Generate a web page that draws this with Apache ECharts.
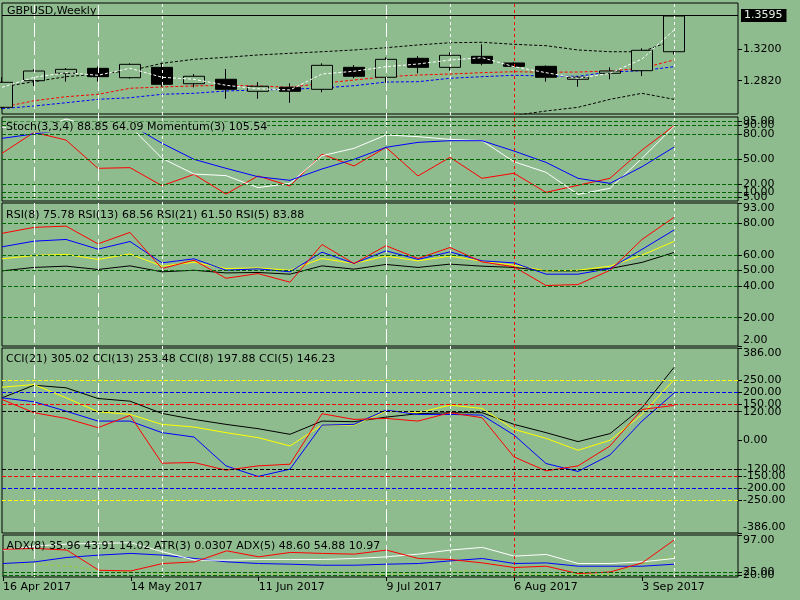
<!DOCTYPE html>
<html>
<head>
<meta charset="utf-8">
<title>GBPUSD,Weekly</title>
<script src="https://cdn.jsdelivr.net/npm/echarts@6.0.0/dist/echarts.min.js"></script>
<style>
html, body { margin: 0; padding: 0; background: #8fbc8f; }
#chart { width: 800px; height: 600px; }
</style>
</head>
<body>
<div id="chart"></div>
<script>
// weekly bars, two empty weeks on the right (chart shift)
var weeks = ['16 Apr 2017', '23 Apr 2017', '30 Apr 2017', '7 May 2017', '14 May 2017', '21 May 2017',
  '28 May 2017', '4 Jun 2017', '11 Jun 2017', '18 Jun 2017', '25 Jun 2017', '2 Jul 2017',
  '9 Jul 2017', '16 Jul 2017', '23 Jul 2017', '30 Jul 2017', '6 Aug 2017', '13 Aug 2017',
  '20 Aug 2017', '27 Aug 2017', '3 Sep 2017', '10 Sep 2017', '17 Sep 2017', '24 Sep 2017'];

var opens  = [1.2501, 1.2820, 1.2909, 1.2968, 1.2856, 1.2980, 1.2784, 1.2837, 1.2693, 1.2741, 1.2717,
  1.2980, 1.2861, 1.3088, 1.2980, 1.3112, 1.3032, 1.2992, 1.2837, 1.2909, 1.2940, 1.3167];
var closes = [1.2801, 1.2936, 1.2956, 1.2868, 1.3016, 1.2777, 1.2873, 1.2717, 1.2753, 1.2693, 1.3004,
  1.2873, 1.3076, 1.2980, 1.3124, 1.3028, 1.2992, 1.2861, 1.2861, 1.2936, 1.3184, 1.3595];
var lows   = [1.2480, 1.2756, 1.2808, 1.2810, 1.2844, 1.2748, 1.2741, 1.2604, 1.2604, 1.2556, 1.2681,
  1.2849, 1.2796, 1.2909, 1.2940, 1.3004, 1.2980, 1.2808, 1.2748, 1.2837, 1.2876, 1.3136];
var highs  = [1.2860, 1.2956, 1.2972, 1.2990, 1.3028, 1.3036, 1.2900, 1.2960, 1.2804, 1.2789, 1.3028,
  1.3008, 1.3100, 1.3116, 1.3160, 1.3256, 1.3044, 1.3004, 1.2873, 1.2980, 1.3208, 1.3595];
var bid = 1.3595;

var maWhite = [1.2741, 1.2861, 1.2916, 1.2885, 1.2969, 1.2861, 1.2837, 1.2765, 1.2724, 1.2709, 1.2900,
  1.2933, 1.2988, 1.3020, 1.3068, 1.3096, 1.2988, 1.2916, 1.2849, 1.2909, 1.3080, 1.3427];
var maRed = [1.2501, 1.2580, 1.2628, 1.2657, 1.2729, 1.2745, 1.2757, 1.2765, 1.2757, 1.2741, 1.2789,
  1.2828, 1.2868, 1.2888, 1.2900, 1.2916, 1.2928, 1.2921, 1.2924, 1.2936, 1.2969, 1.3068];
var maBlue = [1.2485, 1.2517, 1.2556, 1.2597, 1.2616, 1.2657, 1.2669, 1.2697, 1.2709, 1.2717, 1.2733,
  1.2760, 1.2804, 1.2808, 1.2849, 1.2868, 1.2885, 1.2876, 1.2873, 1.2924, 1.2940, 1.2988];
var bandUpper = [1.2745, 1.2808, 1.2868, 1.2900, 1.2940, 1.3028, 1.3076, 1.3100, 1.3128, 1.3148, 1.3167,
  1.3188, 1.3215, 1.3248, 1.3275, 1.3280, 1.3256, 1.3239, 1.3188, 1.3167, 1.3167, 1.3308];
var bandLower = [null, null, null, null, null, null, null, null, null, null, null,
  null, null, null, null, null, 1.2403, 1.2457, 1.2501, 1.2597, 1.2669, 1.2597];

var stochMain = [88, 84, 97.6, 87, 89, 50.8, 32.1, 30.2, 15.9, 21, 53.9, 62.7, 78.6, 76.6, 73.4, 71.8,
  46.8, 34.1, 7.9, 15.1, 50.8, 88.85];
var stochSignal = [74.6, 79.8, 85, 90, 91, 68.7, 49.6, 38.9, 28.9, 24.6, 38.1, 49.6, 63.9, 69.8, 71.8, 71.8,
  59.5, 46, 27, 21, 40.8, 64.09];
var momentumDrawn = [56.8, 81.7, 72.6, 38.9, 39.7, 18.2, 31.7, 8.3, 29.8, 17.9, 55.6, 41.7, 63.9, 29.8, 52, 27,
  33, 10.3, 18.7, 27, 60.7, 89.6];
var momentumValue = 105.54;
var stochLevels = [95, 90, 80, 50, 20, 10, 5];
var stochTicks = [0, 5, 10, 20, 50, 80, 90, 95, 100];

var rsi8 = [65.1, 68.7, 69.8, 63.6, 68.5, 54.9, 57.5, 50.2, 51.1, 49.2, 61.7, 54.5, 62.6, 57.1, 61.9, 56.2,
  54.9, 47.7, 47.7, 51.3, 63.5, 75.78];
var rsi13 = [57.5, 59.6, 60.3, 57.1, 60.6, 52.8, 55.3, 51.3, 51.7, 50.2, 57.7, 54.5, 59.2, 56.2, 59.2, 56,
  53.4, 49.8, 50.2, 52.8, 59.8, 68.56];
var rsi21 = [49.8, 52, 52.8, 50.7, 53, 49.2, 50.2, 48.5, 48.8, 47.7, 53, 50.9, 53.9, 52, 54.1, 52.8,
  52, 49.8, 49.8, 51.3, 55.2, 61.50];
var rsi5 = [73.7, 77.5, 78.3, 67, 74.3, 51.3, 56.6, 45.1, 48.1, 42.6, 66.6, 54.5, 65.8, 57.7, 64.7, 55.5,
  52.4, 40.5, 41.1, 50.2, 69.8, 83.88];
var rsiLevels = [80, 60, 50, 40, 20];
var rsiTicks = [2, 20, 40, 50, 60, 80, 93];

var cci21 = [178, 230.6, 219.8, 175.3, 164.1, 113, 88, 67.3, 49.4, 25.8, 81, 78.5, 97.6, 111.8, 115.9, 115.9,
  67.3, 32.8, -4.6, 28.7, 136.7, 305.02];
var cci13 = [222.3, 233.5, 178.2, 120, 108.8, 67.3, 56.1, 32.8, 12, -22.8, 64.4, 64.4, 122.6, 115.9, 147.5, 133.8,
  46.5, 9.1, -40.7, 0.8, 108.8, 253.48];
var cci8 = [178, 161.6, 122.6, 81, 81, 32.8, 14.5, -106, -150, -119.6, 64.4, 67.3, 126.7, 108.8, 108.8, 106,
  22.8, -96, -129.2, -60.2, 81, 197.88];
var cci5 = [171.2, 115.9, 92.2, 53.6, 104.7, -94.7, -91.8, -123.8, -106, -98.9, 111.8, 88, 92.2, 81, 115.9, 95.1,
  -68.5, -126.7, -106, -22.8, 129.6, 146.23];
var cciTicks = [-386, -250, -200, -150, -120, 0, 120, 150, 200, 250, 386];

var adxRed = [69.2, 71.2, 67.9, 29, 27.7, 42, 45.2, 66.5, 54.9, 63.4, 61.5, 60.1, 67.9, 51.7, 49.8, 43.2,
  34.3, 36.8, 22.6, 25.7, 43.2, 87.3];
var adxWhite = [67.9, 75.6, 79.5, 80.8, 82, 64.6, 48.5, 48.5, 49.8, 49.8, 49.8, 51.7, 54.9, 60.1, 67.9, 73.1,
  56.2, 59.5, 42, 42, 45.2, 51.7];
var adxBlue = [42, 45.2, 53.7, 58.2, 61.5, 58.2, 51.7, 45.2, 42, 40.7, 38.7, 38.7, 40.7, 42, 47.1, 51.7,
  42, 43.2, 36.8, 36.8, 36.8, 40.7];
var adxOlive = [42, 40.7, 36.8, 29.5, 25.7, 22.6, 22, 21, 21, 22, 27, 22, 21, 24, 25.7, 29.5,
  22, 21, 21, 21, 42, 56.8];
var adxLevels = [25, 20];
var adxTicks = [16, 20, 25, 97];

// bars that carry a vertical separator line
var vLong = [1, 3, 12];
var vShort = [5, 14, 21];
var vRed = [16];

var BG = '#8fbc8f';
var FONT = 'DejaVu Sans';
var LEVEL = '#006400';

var chart = echarts.init(document.getElementById('chart'));

function last(a) { return a[a.length - 1]; }

var grids = [
  { top: 3, height: 111 },
  { top: 117, height: 84 },
  { top: 203, height: 143 },
  { top: 348, height: 185 },
  { top: 535, height: 42 },
  { top: 3, height: 574 }
].map(function (g, i) {
  return {
    left: 2, right: 62, top: g.top, height: g.height,
    show: i < 5, borderColor: '#000', borderWidth: 1, backgroundColor: 'transparent'
  };
});

var xAxes = grids.map(function (g, i) {
  return {
    type: 'category', gridIndex: i, data: weeks, boundaryGap: false,
    show: i === 4,
    axisLine: { show: false },
    axisTick: { show: true, interval: 3, length: 4, lineStyle: { color: '#000' } },
    axisLabel: { interval: 3, align: 'left', margin: 5, color: '#000', fontFamily: FONT, fontSize: 11 },
    splitLine: { show: false }
  };
});

function yAx(i, min, max, ticks, digits) {
  return {
    type: 'value', gridIndex: i, position: 'right', min: min, max: max,
    axisLine: { show: false },
    splitLine: { show: false },
    axisTick: { show: true, length: 4, customValues: ticks, lineStyle: { color: '#000' } },
    axisLabel: {
      customValues: ticks, margin: 5, color: '#000', fontFamily: FONT, fontSize: 11,
      verticalAlignMinLabel: i === 0 ? null : 'bottom',
      verticalAlignMaxLabel: i === 0 ? null : 'top',
      formatter: function (v) { return v.toFixed(digits); }
    }
  };
}

var yAxes = [
  yAx(0, 1.24211, 1.37507, [1.282, 1.32], 4),
  yAx(1, 0, 100, stochTicks, 2),
  yAx(2, 2, 93, rsiTicks, 2),
  yAx(3, -386, 386, cciTicks, 2),
  yAx(4, 16, 97, adxTicks, 2),
  { type: 'value', gridIndex: 5, min: 0, max: 1, show: false }
];

function ln(name, data, color, gi, dash) {
  return {
    name: name, type: 'line', xAxisIndex: gi, yAxisIndex: gi, data: data,
    symbol: 'none', silent: true, z: 3,
    lineStyle: { color: color, width: 1, type: dash || 'solid' }
  };
}

function levels(gi, list) {
  return {
    type: 'line', xAxisIndex: gi, yAxisIndex: gi, data: [], z: 2,
    markLine: {
      silent: true, symbol: 'none', animation: false, label: { show: false },
      data: list.map(function (l) {
        return { yAxis: l.v, lineStyle: { color: l.c || LEVEL, type: [4, 2], width: 1 } };
      })
    }
  };
}

function lv(arr) { return arr.map(function (v) { return { v: v }; }); }

var vData = [];
vLong.forEach(function (i) { vData.push({ xAxis: weeks[i], lineStyle: { color: '#fff', type: [14, 4], width: 1 } }); });
vShort.forEach(function (i) { vData.push({ xAxis: weeks[i], lineStyle: { color: '#fff', type: [3, 3], width: 1 } }); });
vRed.forEach(function (i) { vData.push({ xAxis: weeks[i], lineStyle: { color: '#ff0000', type: [3, 3], width: 1 } }); });

var ohlc = opens.map(function (o, i) { return [o, closes[i], lows[i], highs[i]]; });
var DOT = [3, 2];

var series = [
  {
    type: 'line', xAxisIndex: 5, yAxisIndex: 5, data: [], z: 1,
    markLine: { silent: true, symbol: 'none', animation: false, label: { show: false }, data: vData }
  },
  ln('Band upper', bandUpper, '#000', 0, DOT),
  ln('Band lower', bandLower, '#000', 0, DOT),
  ln('MA blue', maBlue, '#0000ff', 0, DOT),
  ln('MA red', maRed, '#ff0000', 0, DOT),
  {
    name: 'GBPUSD', type: 'candlestick', xAxisIndex: 0, yAxisIndex: 0, data: ohlc, barWidth: 22, z: 4,
    silent: true,
    itemStyle: { color: BG, color0: '#000', borderColor: '#000', borderColor0: '#000', borderWidth: 1 },
    markLine: {
      silent: true, symbol: 'none', animation: false,
      lineStyle: { color: '#000', type: 'solid', width: 1 },
      label: {
        show: true, position: 'end', distance: 3, formatter: bid.toFixed(4),
        backgroundColor: '#000', color: '#e4f2e4', padding: [1, 4, 1, 3],
        fontFamily: FONT, fontSize: 11
      },
      data: [{ yAxis: bid }]
    }
  },
  Object.assign(ln('MA white', maWhite, '#fff', 0, DOT), { z: 5 }),

  levels(1, lv(stochLevels)),
  ln('Momentum(3)', momentumDrawn, '#ff0000', 1),
  ln('Stoch main', stochMain, '#fff', 1),
  ln('Stoch signal', stochSignal, '#0000ff', 1),

  levels(2, lv(rsiLevels)),
  ln('RSI(21)', rsi21, '#000', 2),
  ln('RSI(13)', rsi13, '#ffff00', 2),
  ln('RSI(8)', rsi8, '#0000ff', 2),
  ln('RSI(5)', rsi5, '#ff0000', 2),

  levels(3, [
    { v: 250, c: '#ffff00' }, { v: 200, c: '#0000ff' }, { v: 150, c: '#ff0000' }, { v: 120, c: '#000' },
    { v: -120, c: '#000' }, { v: -150, c: '#ff0000' }, { v: -200, c: '#0000ff' }, { v: -250, c: '#ffff00' }
  ]),
  ln('CCI(21)', cci21, '#000', 3),
  ln('CCI(13)', cci13, '#ffff00', 3),
  ln('CCI(8)', cci8, '#0000ff', 3),
  ln('CCI(5)', cci5, '#ff0000', 3),

  levels(4, lv(adxLevels)),
  ln('ADX olive', adxOlive, '#9acd32', 4, [3, 3]),
  ln('ADX blue', adxBlue, '#0000ff', 4),
  ln('ADX white', adxWhite, '#fff', 4),
  ln('ADX red', adxRed, '#ff0000', 4)
];

function ttl(text, left, top, bg) {
  return {
    text: text, left: left, top: top, padding: 0,
    backgroundColor: bg || 'transparent',
    textStyle: { color: '#000', fontFamily: FONT, fontSize: 11, fontWeight: 'normal', lineHeight: 10 }
  };
}

var titles = [
  ttl('GBPUSD,Weekly', 7, 6.5),
  ttl('Stoch(3,3,4) ' + last(stochMain).toFixed(2) + ' ' + last(stochSignal).toFixed(2) +
      ' Momentum(3) ' + momentumValue.toFixed(2), 6, 122, BG),
  ttl('RSI(8) ' + last(rsi8).toFixed(2) + ' RSI(13) ' + last(rsi13).toFixed(2) +
      ' RSI(21) ' + last(rsi21).toFixed(2) + ' RSI(5) ' + last(rsi5).toFixed(2), 6, 210),
  ttl('CCI(21) ' + last(cci21).toFixed(2) + ' CCI(13) ' + last(cci13).toFixed(2) +
      ' CCI(8) ' + last(cci8).toFixed(2) + ' CCI(5) ' + last(cci5).toFixed(2), 6, 354),
  ttl('ADX(8) 35.96 43.91 14.02 ATR(3) 0.0307 ADX(5) 48.60 54.88 10.97', 6.5, 541)
];

chart.setOption({
  backgroundColor: BG,
  animation: false,
  title: titles,
  grid: grids,
  xAxis: xAxes,
  yAxis: yAxes,
  series: series
});
</script>
</body>
</html>
